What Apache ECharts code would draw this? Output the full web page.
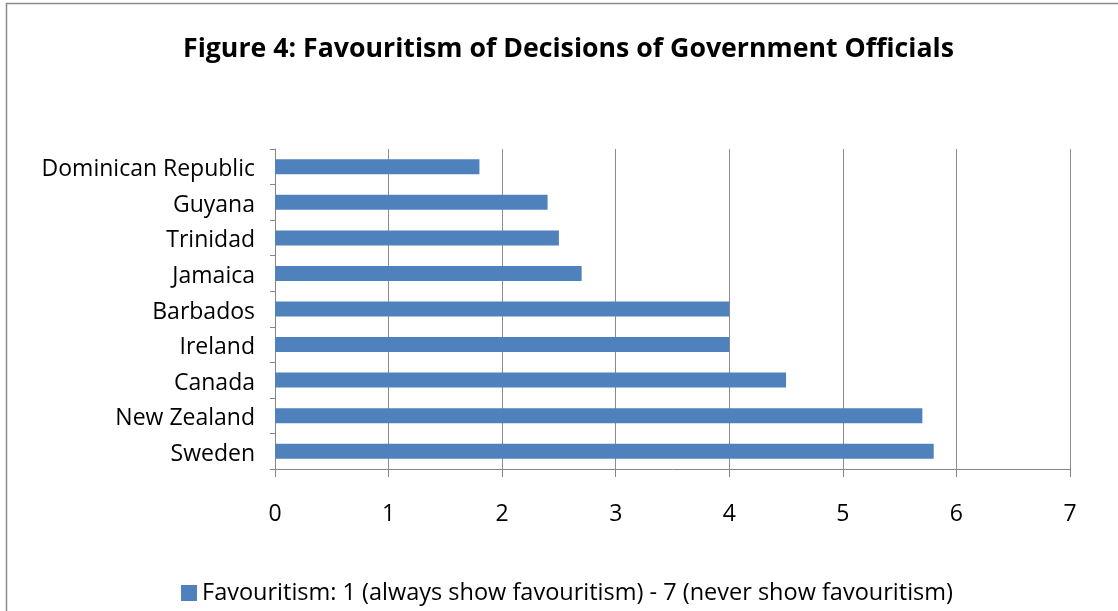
<!DOCTYPE html>
<html>
<head>
<meta charset="utf-8">
<title>Favouritism of Decisions of Government Officials</title>
<script src="https://cdn.jsdelivr.net/npm/echarts@6/dist/echarts.min.js"></script>
<style>
  html, body { margin: 0; padding: 0; background: #ffffff; }
  #chart { width: 1118px; height: 611px; }
</style>
</head>
<body>
<div id="chart"></div>
<script>
// Countries, listed top to bottom as they appear on the chart
const countries = [
  'Dominican Republic', 'Guyana', 'Trinidad', 'Jamaica', 'Barbados',
  'Ireland', 'Canada', 'New Zealand', 'Sweden'
];
// Score: 1 (always show favouritism) - 7 (never show favouritism)
const favouritism = [1.8, 2.4, 2.5, 2.7, 4.0, 4.0, 4.5, 5.7, 5.8];
const seriesName = 'Favouritism: 1 (always show favouritism) - 7 (never show favouritism)';
const chartTitle = 'Figure 4: Favouritism of Decisions of Government Officials';

const FONT = '"Open Sans", "Noto Sans", sans-serif';
const AXIS_GREY = '#868686';
const GRID_GREY = '#8c8c8c';
const BAR_BLUE = '#4f81bd';

const chart = echarts.init(document.getElementById('chart'), null, { renderer: 'canvas' });

chart.setOption({
  backgroundColor: '#ffffff',
  animation: false,
  textStyle: { fontFamily: FONT, color: '#000000' },
  title: {
    text: chartTitle,
    left: 178,
    top: 31,
    textStyle: { fontFamily: FONT, fontSize: 26.7, fontWeight: 'bold', color: '#000000' }
  },
  legend: {
    bottom: 1,
    left: 176,
    icon: 'rect',
    itemWidth: 16,
    itemHeight: 16,
    itemGap: 6,
    textStyle: { fontFamily: FONT, fontSize: 23.5, color: '#000000' },
    data: [seriesName]
  },
  grid: {
    left: 275,
    right: 48,
    top: 149,
    bottom: 142,
    containLabel: false
  },
  xAxis: {
    type: 'value',
    min: 0,
    max: 7,
    interval: 1,
    axisLine: { show: true, lineStyle: { color: AXIS_GREY, width: 1 } },
    axisTick: { show: true, length: 8, lineStyle: { color: AXIS_GREY } },
    axisLabel: { fontFamily: FONT, fontSize: 23, color: '#000000', margin: 34 },
    splitLine: { show: true, lineStyle: { color: GRID_GREY, width: 1 } }
  },
  yAxis: {
    type: 'category',
    inverse: true,
    data: countries,
    axisLine: { show: true, lineStyle: { color: AXIS_GREY, width: 1 } },
    axisTick: { show: true, length: 5, lineStyle: { color: AXIS_GREY } },
    axisLabel: {
      margin: 20,
      formatter: (name) => '{c|' + name + '}',
      rich: {
        c: { fontFamily: FONT, fontSize: 23, color: '#000000', padding: [6, 0, 0, 0] }
      }
    },
    splitLine: { show: false }
  },
  series: [{
    name: seriesName,
    type: 'bar',
    data: favouritism,
    barWidth: 15,
    itemStyle: { color: BAR_BLUE }
  }],
  graphic: [{
    type: 'rect',
    silent: true,
    shape: { x: 6.5, y: 3.5, width: 1130, height: 630 },
    style: { fill: null, stroke: '#8a8a8a', lineWidth: 1.5 }
  }]
});
</script>
</body>
</html>
